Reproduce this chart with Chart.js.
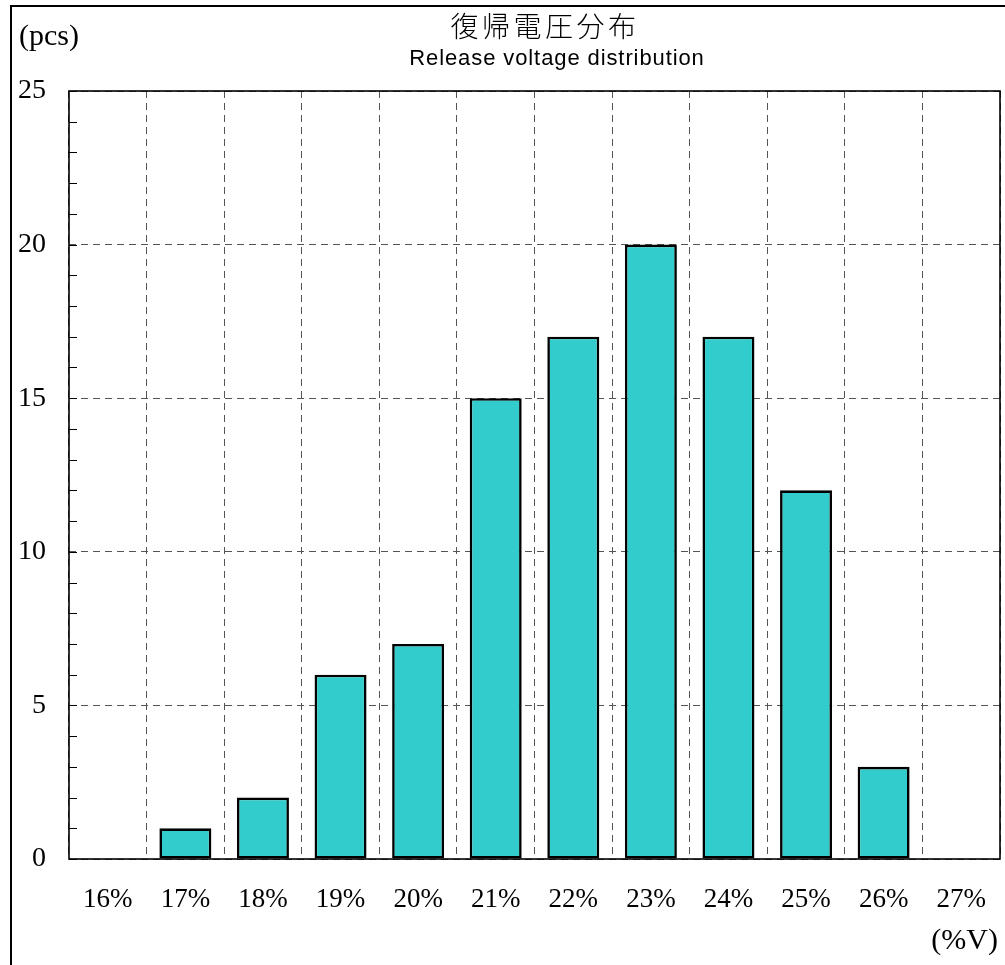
<!DOCTYPE html>
<html>
<head>
<meta charset="utf-8">
<script src="https://cdn.jsdelivr.net/npm/chart.js@4"></script>
<style>
html,body{margin:0;padding:0;background:#fff;}
#wrap{position:absolute;left:0;top:0;width:1005px;height:965px;}
</style>
</head>
<body>
<div id="wrap"><canvas id="c" width="1005" height="965"></canvas></div>
<script>
const categories = ['16%','17%','18%','19%','20%','21%','22%','23%','24%','25%','26%','27%'];
const counts = [0, 1, 2, 6, 7, 15, 17, 20, 17, 12, 3, 0];
const yMin = 0, yMax = 25, yStep = 5, yMinorStep = 1;
const titleJa = '復帰電圧分布';
const titleEn = 'Release voltage distribution';
const yUnit = '(pcs)';
const xUnit = '(%V)';

const serif = '"Liberation Serif", "DejaVu Serif", serif';

const decor = {
  id: 'decor',
  beforeDraw(chart) {
    const ctx = chart.ctx;
    ctx.save();
    ctx.fillStyle = '#fff';
    ctx.fillRect(0, 0, chart.width, chart.height);
    ctx.restore();
  },
  afterDraw(chart) {
    const ctx = chart.ctx;
    const a = chart.chartArea;
    const ys = chart.scales.y;
    ctx.save();
    ctx.strokeStyle = '#000';
    ctx.lineWidth = 2;
    ctx.beginPath();
    ctx.moveTo(11, 966); ctx.lineTo(11, 6); ctx.lineTo(1006, 6);
    ctx.stroke();
    ctx.lineWidth = 1.6;
    ctx.strokeRect(a.left, a.top, a.right - a.left, a.bottom - a.top);
    ctx.lineWidth = 1;
    ctx.beginPath();
    for (let v = yMin; v <= yMax; v += yMinorStep) {
      const y = Math.round(ys.getPixelForValue(v)) + 0.5;
      ctx.moveTo(a.left, y); ctx.lineTo(a.left + 8, y);
    }
    ctx.stroke();
    ctx.fillStyle = '#000';
    ctx.textBaseline = 'alphabetic';
    ctx.textAlign = 'center';
    ctx.font = '300 28px "Noto Sans CJK JP"';
    try { ctx.letterSpacing = '3.5px'; } catch(e) {}
    ctx.fillText(titleJa, 545, 37);
    ctx.font = '22px "Liberation Sans", Arial, sans-serif';
    try { ctx.letterSpacing = '0.9px'; } catch(e) {}
    ctx.fillText(titleEn, 557, 65);
    try { ctx.letterSpacing = '0px'; } catch(e) {}
    ctx.font = '30px ' + serif;
    ctx.textAlign = 'left';
    ctx.fillText(yUnit, 19, 45);
    ctx.textAlign = 'right';
    ctx.fillText(xUnit, 998, 949);
    ctx.restore();
  }
};

new Chart(document.getElementById('c'), {
  type: 'bar',
  data: {
    labels: categories,
    datasets: [{
      data: counts,
      backgroundColor: '#33CCCC',
      borderColor: '#000',
      borderWidth: 2.6,
      borderSkipped: false,
      categoryPercentage: 1,
      barPercentage: 0.67
    }]
  },
  options: {
    responsive: false,
    animation: false,
    devicePixelRatio: 1,
    layout: { padding: { left: 0, top: 91, right: 5, bottom: 0 } },
    plugins: { legend: { display: false }, title: { display: false }, tooltip: { enabled: false } },
    scales: {
      x: {
        offset: true,
        grid: { offset: true, color: '#555', lineWidth: 1, drawTicks: false },
        border: { display: false, dash: [7,5] },
        ticks: { color: '#000', font: { family: serif, size: 27 }, padding: 25, maxRotation: 0 },
        afterFit(s) { s.height = 106; s.paddingLeft = 0; s.paddingRight = 0; }
      },
      y: {
        min: yMin, max: yMax,
        grid: { color: '#555', lineWidth: 1, drawTicks: false },
        border: { display: false, dash: [7,5] },
        ticks: { stepSize: yStep, color: '#000', font: { family: serif, size: 28 }, padding: 23 },
        afterFit(s) { s.width = 69; s.paddingTop = 0; s.paddingBottom = 0; }
      }
    }
  },
  plugins: [decor]
});
</script>
</body>
</html>
